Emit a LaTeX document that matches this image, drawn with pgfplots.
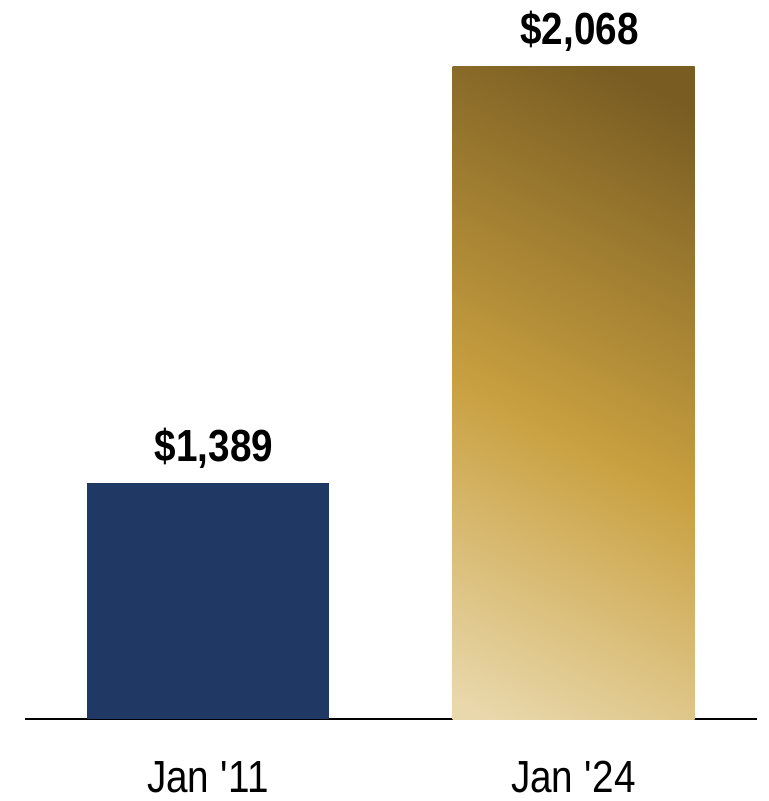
\documentclass[border=0pt]{standalone}
\usepackage{fontspec}
\setmainfont{Liberation Sans}[FakeStretch=0.86]
\usepackage{pgfplots}
\pgfplotsset{compat=1.18}
\definecolor{navybar}{HTML}{1F3864}
\definecolor{golddark}{HTML}{785C22}
\definecolor{goldmid}{HTML}{C9A040}
\definecolor{goldlight}{HTML}{E9D8AC}
\pgfdeclareverticalshading{goldbar}{100bp}{color(0bp)=(goldlight); color(18bp)=(goldlight); color(46bp)=(goldmid); color(80bp)=(golddark); color(100bp)=(golddark)}

\begin{document}
\begin{tikzpicture}
\useasboundingbox (-12.5pt,-41pt) rectangle (371.5pt,359.5pt);
\begin{axis}[
  at={(0pt,0pt)}, anchor=south west,
  scale only axis, width=366pt, height=359.5pt,
  xmin=25, xmax=757, ymin=1004, ymax=2177,
  axis x line=bottom, axis y line=none,
  x axis line style={-, line width=1pt},
  xtick={208,573.5},
  xticklabels={Jan \textquotesingle 11, Jan \textquotesingle 24},
  major tick length=0pt,
  xticklabel style={font=\fontsize{22.5}{26}\selectfont, anchor=base, yshift=-36.5pt},
  ybar, bar width=121pt, bar shift=0pt,
  nodes near coords={\$\pgfmathprintnumber{\pgfplotspointmeta}},
  nodes near coords style={font=\bfseries\fontsize{22.5}{26}\selectfont, anchor=base, yshift=11pt, xshift=3pt,
    /pgf/number format/.cd, fixed, 1000 sep={,}, assume math mode=true},
  clip=false,
]
  \addplot[draw=none, fill=navybar] coordinates {(208,1389)};
  \addplot[draw=none, shading=goldbar, shading angle=-27] coordinates {(573.5,2068)};
\end{axis}
\end{tikzpicture}
\end{document}
